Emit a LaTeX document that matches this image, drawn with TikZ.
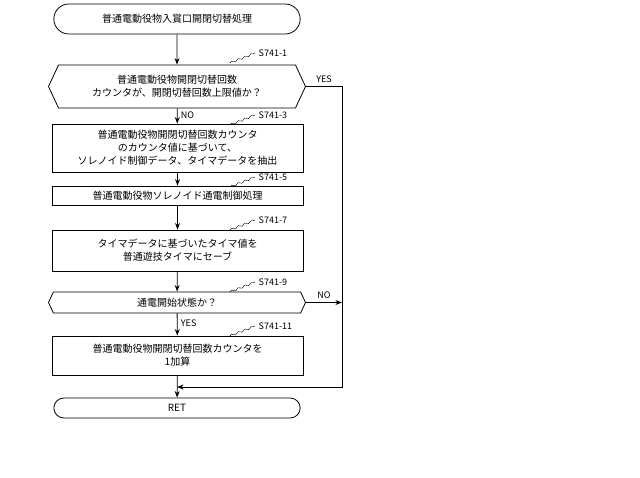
\documentclass[tikz,border=0pt]{standalone}
\usepackage{fontspec}
\setmainfont{Noto Sans CJK JP}
\usetikzlibrary{shapes.misc, shapes.symbols, arrows.meta, decorations.pathmorphing}

\tikzset{
	terminal/.style={draw, rounded rectangle, minimum width=253pt, minimum height=30pt, align=center},
	procbox/.style={draw, rectangle, minimum width=251pt, align=center, inner sep=1pt},
	decision/.style={draw, signal, signal to=west and east, signal pointer angle=130,
		minimum width=257pt, align=center, inner sep=1pt},
	steplabel/.style={font=\fontsize{9}{10}\selectfont, anchor=west},
	wavy/.style={decorate, decoration={snake, amplitude=1pt, segment length=7pt}},
}

\begin{document}
\begin{tikzpicture}[x=1pt, y=-1pt, >=Stealth, font=\fontsize{10}{13}\selectfont, thick]
	\useasboundingbox (0, 0) rectangle (640, 478);

	\node[terminal] (start) at (177, 19) {普通電動役物入賞口開閉切替処理};
	\node[decision, minimum height=43pt] (d1) at (177, 86.5)
		{普通電動役物開閉切替回数\\カウンタが、開閉切替回数上限値か？};
	\node[procbox, minimum height=48pt] (b3) at (177.5, 148)
		{普通電動役物開閉切替回数カウンタ\\のカウンタ値に基づいて、\\ソレノイド制御データ、タイマデータを抽出};
	\node[procbox, minimum height=19pt] (b5) at (177.5, 195.5) {普通電動役物ソレノイド通電制御処理};
	\node[procbox, minimum height=41pt] (b7) at (177.5, 250.5)
		{タイマデータに基づいたタイマ値を\\普通遊技タイマにセーブ};
	\node[decision, minimum height=21pt] (d9) at (177, 302.5) {通電開始状態か？};
	\node[procbox, minimum height=39pt] (b11) at (177.5, 355.5)
		{普通電動役物開閉切替回数カウンタを\\1加算};
	\node[terminal, minimum height=20pt] (ret) at (177, 408) {RET};

	% step labels
	\foreach \n/\y/\t in {d1/53/S741-1, b3/115/S741-3, b5/177/S741-5, b7/220/S741-7, d9/282/S741-9, b11/326/S741-11} {
		\node[steplabel] (lab-\n) at (255, \y) {\t};
		\draw[thin, wavy] (230, \y + 10) -- (lab-\n.west);
	}

	% main flow
	\draw[->] (start) -- (d1);
	\draw[->] (d1) -- node[pos=0.45, right, font=\fontsize{9}{10}\selectfont] {NO} (b3);
	\draw[->] (b3) -- (b5);
	\draw[->] (b5) -- (b7);
	\draw[->] (b7) -- (d9);
	\draw[->] (d9) -- node[pos=0.45, right, font=\fontsize{9}{10}\selectfont] {YES} (b11);
	\draw[->] (b11) -- (ret);

	% bypass
	\coordinate (bypass) at (342, 387);
	\coordinate (join) at (177, 387);
	\draw[->] (d1.east) -- node[above, font=\fontsize{9}{10}\selectfont] {YES} (d1.east -| bypass) -- (bypass) -- (join);
	\draw[->] (d9.east) -- node[above, font=\fontsize{9}{10}\selectfont] {NO} (d9.east -| bypass);
\end{tikzpicture}
\end{document}
